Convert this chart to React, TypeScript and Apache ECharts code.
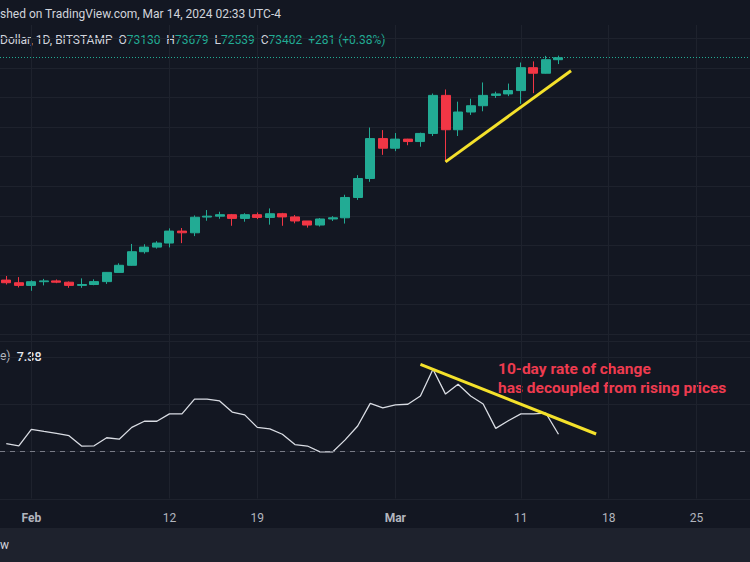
import React, { useEffect, useRef } from 'react';
import * as echarts from 'echarts';

const categories = [
  'Jan 30', 'Jan 31',
  'Feb 1', 'Feb 2', 'Feb 3', 'Feb 4', 'Feb 5', 'Feb 6', 'Feb 7', 'Feb 8', 'Feb 9', 'Feb 10',
  'Feb 11', 'Feb 12', 'Feb 13', 'Feb 14', 'Feb 15', 'Feb 16', 'Feb 17', 'Feb 18', 'Feb 19', 'Feb 20',
  'Feb 21', 'Feb 22', 'Feb 23', 'Feb 24', 'Feb 25', 'Feb 26', 'Feb 27', 'Feb 28', 'Feb 29',
  'Mar 1', 'Mar 2', 'Mar 3', 'Mar 4', 'Mar 5', 'Mar 6', 'Mar 7', 'Mar 8', 'Mar 9', 'Mar 10',
  'Mar 11', 'Mar 12', 'Mar 13', 'Mar 14', 'Mar 15', 'Mar 16', 'Mar 17', 'Mar 18', 'Mar 19', 'Mar 20',
  'Mar 21', 'Mar 22', 'Mar 23', 'Mar 24', 'Mar 25', 'Mar 26', 'Mar 27', 'Mar 28', 'Mar 29',
];

// [open, close, low, high]
const ohlc = [
  [43300, 42940, 42700, 43850],
  [42940, 42580, 42300, 43700],
  [42580, 43080, 41850, 43260],
  [43080, 43190, 42580, 43460],
  [43190, 43010, 42880, 43380],
  [43010, 42580, 42250, 43110],
  [42580, 42700, 42250, 43530],
  [42700, 43090, 42600, 43400],
  [43090, 44340, 42780, 44380],
  [44340, 45300, 44330, 45570],
  [45300, 47140, 45250, 48190],
  [47140, 47760, 46880, 48150],
  [47760, 48310, 47560, 48560],
  [48310, 49930, 47720, 50300],
  [49930, 49700, 48300, 50350],
  [49700, 51800, 49250, 52050],
  [51830, 51950, 51330, 52780],
  [51950, 52150, 51600, 52550],
  [52150, 51650, 50650, 52250],
  [51650, 52150, 51200, 52350],
  [52150, 51780, 51550, 52450],
  [51780, 52280, 50800, 53000],
  [52280, 51850, 50650, 52400],
  [51850, 51300, 50980, 52100],
  [51300, 50750, 50400, 51300],
  [50750, 51570, 50550, 51700],
  [51570, 51730, 51300, 51950],
  [51730, 54480, 50950, 54850],
  [54480, 57050, 54150, 57500],
  [57050, 62450, 56600, 63950],
  [62450, 61150, 60250, 63600],
  [61150, 62380, 60750, 63200],
  [62380, 62050, 61550, 62420],
  [62050, 63150, 61350, 63250],
  [63150, 68300, 62800, 68550],
  [68300, 63650, 59300, 69100],
  [63650, 66050, 62800, 67450],
  [66050, 66900, 65650, 67850],
  [66900, 68300, 66150, 70050],
  [68300, 68500, 67950, 68800],
  [68500, 68950, 68200, 69900],
  [68950, 72050, 67150, 72750],
  [72050, 71300, 68600, 72900],
  [71300, 73130, 71250, 73650],
  [73130, 73402, 72539, 73679],
];

// 10-day rate of change (%)
const roc = [
  3.4, 2.5, 9.5, 8.6, 7.8, 6.8, 2.4, 2.5, 5.9, 5.3, 10.3, 12.9, 12.9, 16.0, 16.0,
  22.3, 22.3, 21.5, 16.8, 15.6, 10.3, 9.7, 7.4, 3.0, 2.4, -0.1, -0.1, 5.0, 10.9, 20.5,
  18.6, 19.8, 20.1, 23.6, 34.9, 24.4, 28.6, 23.6, 20.2, 9.9, 13.1, 16.0, 16.0, 16.3, 7.38,
];

const tickDates = ['Feb 1', 'Feb 12', 'Feb 19', 'Mar 1', 'Mar 11', 'Mar 18', 'Mar 25'];
const tickLabels = ['Feb', '12', '19', 'Mar', '11', '18', '25'];
const monthTicks = ['Feb', 'Mar'];

const lastPrice = 73402;
const priceTrend = [['Mar 5', 59300], ['Mar 15', 71640]];
const rocTrend = [['Mar 3', 37], ['Mar 17', 7.5]];

const BG = '#131722';
const GRID = '#1e222d';
const UP = '#22ab94';
const DOWN = '#f23645';
const YELLOW = '#f4e12b';
const FONT = 'Roboto, "Noto Sans", sans-serif';
const WIDTH = 753;

export default function App() {
  const ref = useRef<HTMLDivElement>(null);

  useEffect(() => {
    const chart = echarts.init(ref.current!, null, { renderer: 'svg' });
    const bw = WIDTH / categories.length;
    const isTick = (_i: number, v: string) => tickDates.indexOf(v) >= 0;

    chart.setOption({
      animation: false,
      backgroundColor: BG,
      textStyle: { fontFamily: FONT },
      grid: [
        { left: 0, right: 0, top: 38.5, height: 295.5 },
        { left: 0, right: 0, top: 341, height: 157.9 },
        { left: bw / 2, right: bw / 2, top: 25, height: 473.5 },
      ],
      xAxis: [
        {
          gridIndex: 0, type: 'category', data: categories, boundaryGap: true,
          axisLine: { show: false }, axisTick: { show: false }, axisLabel: { show: false },
          splitLine: { show: false },
        },
        {
          gridIndex: 1, type: 'category', data: categories, boundaryGap: true,
          axisLine: { show: false }, axisTick: { show: false }, splitLine: { show: false },
          axisLabel: {
            interval: isTick,
            margin: 13,
            formatter: (v: string) => {
              const t = tickLabels[tickDates.indexOf(v)];
              return monthTicks.indexOf(t) >= 0 ? '{m|' + t + '}' : '{d|' + t + '}';
            },
            rich: {
              m: { color: '#b2b5be', fontSize: 12, fontWeight: 'bold', fontFamily: FONT },
              d: { color: '#b2b5be', fontSize: 12, fontFamily: FONT },
            },
          },
        },
        {
          gridIndex: 2, type: 'category', data: categories, boundaryGap: false,
          axisLine: { show: false }, axisTick: { show: false }, axisLabel: { show: false },
          splitLine: { show: true, interval: isTick, lineStyle: { color: GRID, width: 1 } },
        },
      ],
      yAxis: [
        {
          gridIndex: 0, type: 'value', min: 36000, max: 76000, interval: 4000,
          axisLine: { show: false }, axisTick: { show: false }, axisLabel: { show: false },
          splitLine: { lineStyle: { color: GRID, width: 1 } },
        },
        {
          gridIndex: 1, type: 'value', min: -20, max: 46.9, interval: 20,
          axisLine: { show: false }, axisTick: { show: false }, axisLabel: { show: false },
          splitLine: { lineStyle: { color: GRID, width: 1 } },
        },
        {
          gridIndex: 2, type: 'value', min: 0, max: 1, show: false,
        },
      ],
      series: [
        {
          type: 'candlestick',
          xAxisIndex: 0,
          yAxisIndex: 0,
          data: ohlc,
          barWidth: '76%',
          itemStyle: {
            color: UP, color0: DOWN, borderColor: UP, borderColor0: DOWN, borderWidth: 1,
          },
          markLine: {
            silent: true,
            symbol: ['none', 'none'],
            label: { show: false },
            data: [
              { yAxis: lastPrice, lineStyle: { color: UP, type: [1, 2], width: 1 } },
              [
                { coord: priceTrend[0], lineStyle: { color: YELLOW, width: 3, type: 'solid' } },
                { coord: priceTrend[1], lineStyle: { color: YELLOW, width: 3, type: 'solid' } },
              ],
            ],
          },
        },
        {
          type: 'line',
          xAxisIndex: 1,
          yAxisIndex: 1,
          data: roc,
          symbol: 'none',
          lineStyle: { color: '#d9dce3', width: 1.3 },
          markLine: {
            silent: true,
            symbol: ['none', 'none'],
            label: { show: false },
            data: [
              { yAxis: 0, lineStyle: { color: '#787b86', type: [5, 5], width: 1 } },
              [
                { coord: rocTrend[0], lineStyle: { color: YELLOW, width: 3, type: 'solid' } },
                { coord: rocTrend[1], lineStyle: { color: YELLOW, width: 3, type: 'solid' } },
              ],
            ],
          },
        },
      ],
      graphic: [
        { type: 'line', shape: { x1: 0, y1: 341.5, x2: WIDTH, y2: 341.5 }, style: { stroke: '#2a2e39', lineWidth: 1 } },
        { type: 'rect', shape: { x: 0, y: 528, width: WIDTH, height: 34 }, style: { fill: '#1e222d' } },
        {
          type: 'text', x: 0, y: 14,
          style: { text: 'shed on TradingView.com, Mar 14, 2024 02:33 UTC-4', fill: '#d1d4dc', font: '12px ' + FONT, verticalAlign: 'middle' },
        },
        {
          type: 'text', x: 0, y: 40,
          style: {
            text: '{g|Dollar, 1D, BITSTAMP  O}{t|73130}{g|  H}{t|73679}{g|  L}{t|72539}{g|  C}{t|73402}{t|  +281 (+0.38%)}',
            verticalAlign: 'middle',
            rich: {
              g: { fill: '#d1d4dc', font: '12px ' + FONT },
              t: { fill: UP, font: '12px ' + FONT },
            },
          },
        },
        {
          type: 'text', x: 0, y: 356,
          style: {
            text: '{g|e)}{w|  7.38}',
            verticalAlign: 'middle',
            rich: {
              g: { fill: '#b2b5be', font: '12px ' + FONT },
              w: { fill: '#e6e8ee', font: '500 12.5px ' + FONT },
            },
          },
        },
        {
          type: 'text', x: 498, y: 369,
          style: { text: '10-day rate of change', fill: '#ee3b4f', font: 'bold 15.5px ' + FONT, verticalAlign: 'middle' },
        },
        {
          type: 'text', x: 498, y: 387.6,
          style: { text: 'has decoupled from rising prices', fill: '#ee3b4f', font: 'bold 15.5px ' + FONT, verticalAlign: 'middle' },
        },
        {
          type: 'text', x: 0, y: 545,
          style: { text: 'w', fill: '#d1d4dc', font: '12px ' + FONT, verticalAlign: 'middle' },
        },
      ],
    });

    return () => chart.dispose();
  }, []);

  return <div ref={ref} style={{ position: 'fixed', left: 0, top: 0, width: WIDTH, height: 562 }} />;
}
